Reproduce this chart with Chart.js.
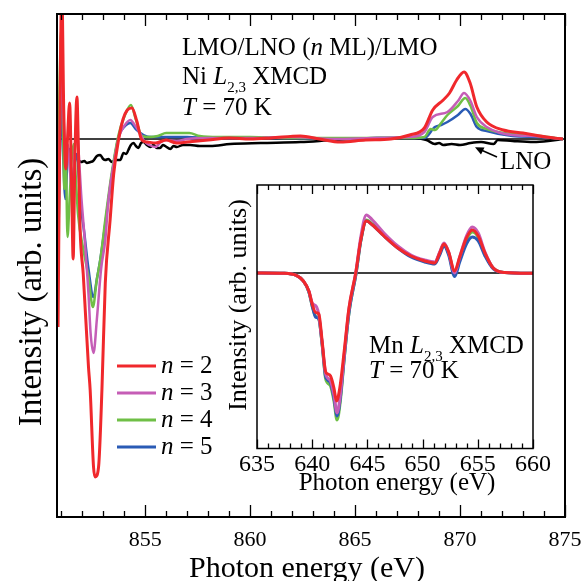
<!DOCTYPE html>
<html>
<head>
<meta charset="utf-8">
<script src="https://cdn.jsdelivr.net/npm/chart.js@4.4.1/dist/chart.umd.min.js"></script>
<style>
  body { margin: 0; background: #fff; }
  #wrap { position: relative; width: 585px; height: 581px; }
  #mainChart { position: absolute; left: 0; top: 0; }
  #insetChart { position: absolute; left: 200px; top: 175px; }
</style>
</head>
<body>
<div id="wrap">
  <canvas id="mainChart" width="585" height="581"></canvas>
  <canvas id="insetChart" width="370" height="325"></canvas>
</div>
<script>
// Ni L2,3 XMCD, [photon energy (eV), intensity (arb. units)]
const niN2 = [[850.85,-1.88],[850.95,0.5],[851.03,1.5],[851.12,0.3],[851.22,-0.3],[851.3,0.0],[851.4,0.36],[851.5,-0.5],[851.57,-1.2],[851.65,-0.2],[851.75,0.42],[851.82,-0.1],[851.9,-0.9],[852.05,-1.35],[852.3,-2.28],[852.38,-2.51],[852.54,-3.28],[852.62,-3.38],[852.78,-3.28],[852.94,-2.51],[853.1,-1.44],[853.33,-0.81],[853.5,-0.35],[853.73,-0.01],[853.95,0.2],[854.15,0.29],[854.37,0.31],[854.6,0.18],[854.84,-0.01],[855.1,-0.03],[855.5,-0.04],[856,-0.01],[856.5,-0.04],[857,-0.03],[858,-0.01],[859,0.01],[860,0.0],[861,0.01],[862.4,0.03],[863.3,0.0],[864.3,-0.03],[865.5,-0.01],[866.7,0.0],[867.6,0.04],[868.3,0.11],[868.7,0.29],[869.2,0.39],[869.5,0.46],[869.84,0.59],[870.19,0.67],[870.48,0.56],[870.8,0.32],[871.27,0.17],[872.06,0.09],[873,0.06],[874.1,0.02],[874.9,0.0]];
const niN3 = [[850.85,-0.81],[850.95,0.2],[851.02,0.85],[851.1,0.3],[851.2,-0.1],[851.3,-0.05],[851.45,-0.4],[851.55,-0.6],[851.65,-0.1],[851.75,0.1],[851.85,-0.2],[851.95,-0.55],[852.1,-0.95],[852.3,-1.55],[852.4,-1.94],[852.54,-2.14],[852.7,-1.8],[852.9,-1.3],[853.1,-1.01],[853.25,-0.61],[853.5,-0.25],[853.75,0.02],[854.0,0.13],[854.3,0.19],[854.5,0.14],[854.75,0.06],[854.95,-0.02],[855.2,-0.06],[855.48,-0.08],[855.75,-0.03],[856,-0.01],[856.5,-0.02],[857,0.0],[858,0.01],[860,0.01],[862,0.02],[864,0.0],[866,0.01],[867.6,0.02],[868.3,0.07],[868.7,0.22],[869.4,0.27],[869.9,0.38],[870.19,0.46],[870.5,0.38],[870.8,0.22],[871.27,0.12],[872.5,0.04],[873.5,0.03],[874.9,0.0]];
const niN4 = [[850.85,-0.3],[850.92,0.5],[851.0,1.1],[851.07,0.4],[851.15,-0.5],[851.22,-0.2],[851.3,-0.98],[851.4,-0.6],[851.5,-0.2],[851.6,-0.05],[851.7,-0.4],[851.8,-0.75],[852.06,-1.11],[852.3,-1.38],[852.51,-1.68],[852.7,-1.4],[852.86,-1.21],[853.1,-0.81],[853.4,-0.35],[853.73,0.04],[854.0,0.22],[854.32,0.34],[854.55,0.2],[854.85,0.03],[855.2,0.02],[855.6,0.03],[856,0.06],[856.6,0.06],[857.1,0.06],[857.6,0.03],[858.5,0.02],[860,0.02],[862,0.01],[864,0.01],[866,0.01],[867.6,0.01],[868.3,0.02],[868.6,0.1],[868.8,0.09],[869.1,0.16],[869.4,0.24],[869.9,0.33],[870.25,0.41],[870.5,0.33],[870.8,0.16],[871.27,0.1],[872.5,0.05],[873.8,0.03],[874.9,0.0]];
const niN5 = [[850.85,-1.24],[850.95,0.0],[851.02,0.4],[851.1,-0.2],[851.2,-0.6],[851.3,-0.2],[851.4,-0.1],[851.5,-0.5],[851.6,-0.3],[851.75,-0.15],[851.9,-0.6],[852.1,-0.94],[852.3,-1.3],[852.54,-1.58],[852.7,-1.4],[852.86,-1.21],[853.1,-0.85],[853.4,-0.38],[853.73,0.02],[854.0,0.12],[854.3,0.16],[854.55,0.1],[854.92,0.04],[855.3,0.02],[856,0.02],[857,0.02],[858,0.01],[860,0.01],[862,0.01],[864,0.0],[866,0.01],[867.6,0.01],[868.3,0.01],[868.8,0.12],[869.1,0.14],[869.4,0.17],[869.9,0.24],[870.25,0.3],[870.5,0.25],[870.8,0.12],[871.27,0.08],[872.5,0.03],[873.8,0.02],[874.9,0.0]];
const niLNO = [[851.82,-0.21],[851.95,-0.23],[852.1,-0.22],[852.22,-0.24],[852.4,-0.23],[852.52,-0.22],[852.7,-0.17],[852.86,-0.16],[853.0,-0.2],[853.1,-0.21],[853.25,-0.2],[853.41,-0.23],[853.6,-0.21],[853.81,-0.21],[853.97,-0.14],[854.1,-0.15],[854.2,-0.11],[854.32,-0.06],[854.44,-0.04],[854.56,-0.07],[854.68,-0.09],[854.8,-0.04],[854.92,-0.03],[855.08,-0.06],[855.24,-0.08],[855.4,-0.06],[855.55,-0.09],[855.71,-0.09],[855.85,-0.06],[855.95,-0.07],[856.2,-0.1],[856.35,-0.07],[856.51,-0.08],[856.8,-0.06],[857.14,-0.06],[857.6,-0.07],[858.1,-0.07],[859.05,-0.05],[860.5,-0.04],[862.4,-0.03],[864,-0.01],[866.2,0.01],[867.8,0.01],[868.4,-0.01],[868.8,-0.05],[869.0,-0.04],[869.2,-0.06],[869.6,-0.05],[870.0,-0.06],[870.5,-0.04],[871.0,-0.03],[871.6,-0.05],[871.8,-0.01],[872.5,-0.02],[873.5,-0.03],[874.2,-0.02],[874.9,0.0]];

// Mn L2,3 XMCD (inset)
const mnN2 = [[635,0],[637.4,-0.003],[638.6,-0.026],[639.2,-0.08],[639.7,-0.18],[640.0,-0.31],[640.3,-0.395],[640.6,-0.41],[640.9,-0.68],[641.2,-0.98],[641.4,-1.01],[641.66,-1.03],[641.97,-1.15],[642.2,-1.28],[642.5,-1.15],[642.9,-0.78],[643.33,-0.35],[643.94,0],[644.4,0.33],[644.9,0.52],[645.46,0.48],[646.5,0.37],[647.75,0.25],[648.95,0.17],[650.2,0.12],[651.1,0.1],[651.55,0.2],[651.94,0.29],[652.36,0.21],[652.9,0.02],[653.36,0.16],[653.97,0.35],[654.5,0.43],[655.04,0.37],[655.65,0.2],[656.4,0.05],[657.46,0.005],[660,-0.003]];
const mnN3 = [[635,0],[637.4,-0.003],[638.6,-0.026],[639.2,-0.08],[639.7,-0.18],[640.0,-0.3],[640.4,-0.34],[640.6,-0.42],[640.9,-0.7],[641.2,-1.0],[641.4,-1.05],[641.66,-1.08],[641.97,-1.22],[642.25,-1.4],[642.55,-1.22],[642.9,-0.82],[643.33,-0.36],[643.94,0],[644.4,0.36],[644.9,0.58],[645.46,0.53],[646.5,0.4],[647.75,0.27],[648.95,0.18],[650.2,0.13],[651.1,0.11],[651.55,0.21],[651.94,0.3],[652.36,0.21],[652.9,0.0],[653.36,0.16],[653.97,0.37],[654.5,0.46],[655.04,0.4],[655.65,0.21],[656.4,0.05],[657.46,0.005],[660,-0.003]];
const mnN4 = [[635,0],[637.4,-0.003],[638.6,-0.026],[639.2,-0.08],[639.7,-0.19],[640.0,-0.33],[640.3,-0.43],[640.6,-0.46],[640.9,-0.72],[641.2,-1.05],[641.4,-1.1],[641.66,-1.13],[641.97,-1.28],[642.25,-1.47],[642.55,-1.28],[642.9,-0.86],[643.33,-0.4],[643.98,0],[644.4,0.32],[644.9,0.53],[645.46,0.49],[646.5,0.38],[647.75,0.26],[648.95,0.17],[650.2,0.12],[651.1,0.1],[651.55,0.2],[651.94,0.29],[652.36,0.2],[652.9,-0.01],[653.36,0.14],[653.97,0.33],[654.5,0.41],[655.04,0.36],[655.65,0.19],[656.4,0.05],[657.46,0.005],[660,-0.003]];
const mnN5 = [[635,0],[637.4,-0.003],[638.6,-0.026],[639.2,-0.08],[639.7,-0.19],[640.0,-0.33],[640.3,-0.44],[640.6,-0.46],[640.9,-0.71],[641.2,-1.03],[641.4,-1.07],[641.66,-1.1],[641.97,-1.25],[642.25,-1.43],[642.55,-1.25],[642.9,-0.85],[643.33,-0.4],[643.98,0],[644.4,0.32],[644.9,0.52],[645.46,0.48],[646.5,0.37],[647.75,0.25],[648.95,0.16],[650.2,0.11],[651.1,0.09],[651.55,0.18],[651.94,0.27],[652.36,0.18],[652.9,-0.035],[653.36,0.11],[653.97,0.29],[654.5,0.36],[655.04,0.32],[655.65,0.17],[656.4,0.04],[657.46,0.005],[660,-0.003]];

const layerLabels = ['2', '3', '4', '5'];
const layerColors = ['#f0282c', '#c55db6', '#6fbf46', '#2a5bb5'];
const niTicks = [855, 860, 865, 870, 875];
const mnTicks = [635, 640, 645, 650, 655, 660];

const SERIF = '"Liberation Serif", "Times New Roman", serif';

function pts(arr) {
  return arr.map(p => ({ x: p[0], y: p[1] }));
}

// text made of runs: {t, it, sub}
function drawRich(ctx, x, y, runs, size) {
  let cx = x;
  runs.forEach(r => {
    const s = r.sub ? Math.round(size * 0.6) : size;
    ctx.font = (r.it ? 'italic ' : '') + s + 'px ' + SERIF;
    ctx.fillText(r.t, cx, y + (r.sub ? size * 0.3 : 0));
    cx += ctx.measureText(r.t).width;
  });
}

// box, inward ticks on top and bottom, zero line
function frameAndTicks(major, minorLen, majorLen, lw) {
  return {
    id: 'frame',
    beforeDatasetsDraw(chart) {
      const { ctx, chartArea: a, scales } = chart;
      const y0 = scales.y.getPixelForValue(0);
      ctx.save();
      ctx.strokeStyle = '#000';
      ctx.lineWidth = 1.5;
      ctx.beginPath();
      ctx.moveTo(a.left, y0);
      ctx.lineTo(a.right, y0);
      ctx.stroke();
      ctx.restore();
    },
    afterDatasetsDraw(chart) {
      const { ctx, chartArea: a, scales } = chart;
      const xs = scales.x;
      ctx.save();
      ctx.strokeStyle = '#000';
      ctx.lineWidth = lw;
      ctx.strokeRect(a.left, a.top, a.right - a.left, a.bottom - a.top);
      ctx.lineWidth = 1.3;
      ctx.beginPath();
      for (let v = Math.ceil(xs.min); v <= Math.floor(xs.max); v++) {
        const px = Math.round(xs.getPixelForValue(v)) + 0.5;
        const len = v % major === 0 ? majorLen : minorLen;
        ctx.moveTo(px, a.top);
        ctx.lineTo(px, a.top + len);
        ctx.moveTo(px, a.bottom);
        ctx.lineTo(px, a.bottom - len);
      }
      ctx.stroke();
      ctx.restore();
    }
  };
}

function lineSet(data, color, width) {
  return {
    data: pts(data),
    borderColor: color,
    borderWidth: width,
    pointRadius: 0,
    fill: false,
    cubicInterpolationMode: 'monotone',
    clip: 0
  };
}

// ---------- main chart ----------
const mainLabels = {
  id: 'mainLabels',
  afterDraw(chart) {
    const ctx = chart.ctx;
    ctx.save();
    ctx.fillStyle = '#000';
    ctx.textBaseline = 'alphabetic';
    ctx.textAlign = 'left';
    drawRich(ctx, 182, 55, [{ t: 'LMO/LNO (' }, { t: 'n', it: true }, { t: ' ML)/LMO' }], 25);
    drawRich(ctx, 182, 84, [{ t: 'Ni ' }, { t: 'L', it: true }, { t: '2,3', sub: true }, { t: ' XMCD' }], 25);
    drawRich(ctx, 182, 115, [{ t: 'T', it: true }, { t: ' = 70 K' }], 25);
    drawRich(ctx, 500, 169, [{ t: 'LNO' }], 25);

    // arrow to the LNO curve
    ctx.strokeStyle = '#000';
    ctx.lineWidth = 1.5;
    ctx.beginPath();
    ctx.moveTo(497, 157);
    ctx.lineTo(480, 149.5);
    ctx.stroke();
    ctx.beginPath();
    ctx.moveTo(475, 147.3);
    ctx.lineTo(484.5, 147.6);
    ctx.lineTo(481, 154.5);
    ctx.closePath();
    ctx.fill();

    // legend
    layerLabels.forEach((lab, i) => {
      const y = 366 + i * 27;
      ctx.strokeStyle = layerColors[i];
      ctx.lineWidth = 3;
      ctx.beginPath();
      ctx.moveTo(117, y);
      ctx.lineTo(156, y);
      ctx.stroke();
      drawRich(ctx, 161, y + 7, [{ t: 'n', it: true }, { t: ' = ' + lab }], 25);
    });

    // axis titles
    ctx.font = '30px ' + SERIF;
    ctx.textAlign = 'center';
    ctx.fillText('Photon energy (eV)', 307, 577);
    ctx.font = '33px ' + SERIF;
    ctx.translate(41, 292);
    ctx.rotate(-Math.PI / 2);
    ctx.fillText('Intensity (arb. units)', 0, 0);
    ctx.restore();
  }
};

new Chart(document.getElementById('mainChart'), {
  type: 'line',
  data: {
    datasets: [
      lineSet(niN2, layerColors[0], 3),
      lineSet(niN3, layerColors[1], 2.5),
      lineSet(niN4, layerColors[2], 2.5),
      lineSet(niN5, layerColors[3], 2.5),
      lineSet(niLNO, '#000', 2.5)
    ]
  },
  options: {
    responsive: false,
    animation: false,
    devicePixelRatio: 1,
    layout: { padding: { top: 14, right: 20, left: 0, bottom: 0 } },
    plugins: { legend: { display: false }, tooltip: { enabled: false } },
    scales: {
      x: {
        type: 'linear',
        min: 850.8,
        max: 875,
        grid: { display: false, drawTicks: false },
        border: { display: false },
        afterBuildTicks: s => { s.ticks = niTicks.map(v => ({ value: v })); },
        afterFit: s => { s.height = 64; s.paddingLeft = 0; s.paddingRight = 0; },
        ticks: {
          autoSkip: false,
          maxRotation: 0,
          padding: 10,
          color: '#000',
          font: { family: SERIF, size: 22 }
        }
      },
      y: {
        min: -3.78,
        max: 1.25,
        grid: { display: false, drawTicks: false },
        border: { display: false },
        ticks: { display: false },
        afterFit: s => { s.width = 57; }
      }
    }
  },
  plugins: [frameAndTicks(5, 6, 12, 2), mainLabels]
});

// ---------- inset chart ----------
const insetLabels = {
  id: 'insetLabels',
  beforeDraw(chart) {
    const { ctx, chartArea: a } = chart;
    ctx.save();
    ctx.fillStyle = '#fff';
    ctx.fillRect(a.left, a.top, a.right - a.left, a.bottom - a.top);
    ctx.restore();
  },
  afterDraw(chart) {
    const ctx = chart.ctx;
    ctx.save();
    ctx.fillStyle = '#000';
    ctx.textBaseline = 'alphabetic';
    ctx.textAlign = 'left';
    drawRich(ctx, 169, 178, [{ t: 'Mn ' }, { t: 'L', it: true }, { t: '2,3', sub: true }, { t: ' XMCD' }], 25);
    drawRich(ctx, 169, 203, [{ t: 'T', it: true }, { t: ' = 70 K' }], 25);
    ctx.font = '25px ' + SERIF;
    ctx.textAlign = 'center';
    ctx.fillText('Photon energy (eV)', 197, 315);
    ctx.font = '26px ' + SERIF;
    ctx.translate(46, 130);
    ctx.rotate(-Math.PI / 2);
    ctx.fillText('Intensity (arb. units)', 0, 0);
    ctx.restore();
  }
};

new Chart(document.getElementById('insetChart'), {
  type: 'line',
  data: {
    datasets: [
      lineSet(mnN2, layerColors[0], 3),
      lineSet(mnN3, layerColors[1], 3),
      lineSet(mnN5, layerColors[3], 3),
      lineSet(mnN4, layerColors[2], 3)
    ]
  },
  options: {
    responsive: false,
    animation: false,
    devicePixelRatio: 1,
    layout: { padding: { top: 10, right: 37, left: 0, bottom: 0 } },
    plugins: { legend: { display: false }, tooltip: { enabled: false } },
    scales: {
      x: {
        type: 'linear',
        min: 635,
        max: 660,
        grid: { display: false, drawTicks: false },
        border: { display: false },
        afterBuildTicks: s => { s.ticks = mnTicks.map(v => ({ value: v })); },
        afterFit: s => { s.height = 51.5; s.paddingLeft = 0; s.paddingRight = 0; },
        ticks: {
          autoSkip: false,
          maxRotation: 0,
          padding: 2,
          color: '#000',
          font: { family: SERIF, size: 24 }
        }
      },
      y: {
        min: -1.755,
        max: 0.88,
        grid: { display: false, drawTicks: false },
        border: { display: false },
        ticks: { display: false },
        afterFit: s => { s.width = 57; }
      }
    }
  },
  plugins: [frameAndTicks(5, 5, 9, 1.5), insetLabels]
});
</script>
</body>
</html>
